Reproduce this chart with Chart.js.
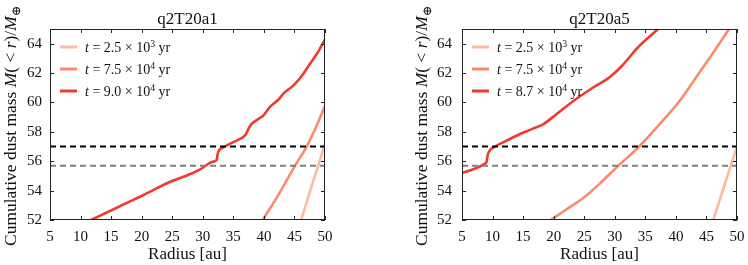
<!DOCTYPE html>
<html lang="en">
<head>
<meta charset="UTF-8">
<title>Cumulative dust mass</title>
<script src="https://cdn.jsdelivr.net/npm/chart.js@4.4.1/dist/chart.umd.min.js"></script>
<style>
  body { margin: 0; background: #fff; }
  .wrap { display: flex; width: 748px; height: 265px; }
  .panel { position: relative; width: 374px; height: 265px; }
</style>
</head>
<body>
<div class="wrap">
  <div class="panel"><canvas id="chartA1"></canvas></div>
  <div class="panel"><canvas id="chartA5"></canvas></div>
</div>
<script>
// ---- data ----
const xTicks = [5, 10, 15, 20, 25, 30, 35, 40, 45, 50];
const yTicks = [52, 54, 56, 58, 60, 62, 64];
const colors = ['#fcbba1', '#fc8a6a', '#ef3b2c'];
const blackLevel = 57.0;
const grayLevel = 55.7;

// q2T20a1
const a1Title = 'q2T20a1';
const a1Times = ['2.5', '7.5', '9.0'];
const a1Exps = ['3', '4', '4'];
const a1EarlyR = [46.1, 47.5, 48.9, 50];
const a1EarlyM = [52.0, 53.9, 55.7, 57.2];
const a1MidR = [39.8, 42.5, 45.1, 47.0, 48.5, 50];
const a1MidM = [52.0, 53.8, 55.7, 57.0, 58.3, 59.75];
const a1LateR = [11.7, 16.0, 19.8, 24.7, 27.5, 29.6, 30.5, 31.5, 32.3, 32.38, 32.5, 33.4, 34.5, 36.0, 37.0, 37.3, 37.6, 38.0, 39.0, 39.9, 41.0, 42.4, 43.2, 44.8, 45.9, 47.5, 48.8, 50];
const a1LateM = [52.0, 52.85, 53.6, 54.6, 55.05, 55.45, 55.7, 55.95, 56.1, 56.35, 56.6, 56.95, 57.2, 57.5, 57.8, 58.05, 58.3, 58.55, 58.85, 59.1, 59.7, 60.2, 60.6, 61.15, 61.65, 62.6, 63.4, 64.3];

// q2T20a5
const a5Title = 'q2T20a5';
const a5Times = ['2.5', '7.5', '8.7'];
const a5Exps = ['3', '4', '4'];
const a5EarlyR = [46.1, 47.5, 48.9, 50];
const a5EarlyM = [52.0, 53.8, 55.6, 57.0];
const a5MidR = [19.5, 22.0, 25.0, 27.6, 30.6, 34.0, 37.3, 40.7, 43.8, 46.3, 48.7];
const a5MidM = [52.0, 52.7, 53.55, 54.5, 55.7, 57.0, 58.5, 60.15, 62.0, 63.5, 65.0];
const a5LateR = [5, 6.5, 7.7, 8.6, 9.05, 9.15, 9.3, 9.7, 10.4, 12.3, 14.5, 16.5, 18.4, 20.3, 23.4, 26.4, 29.1, 31.2, 33.9, 37.1];
const a5LateM = [55.2, 55.4, 55.6, 55.8, 55.98, 56.3, 56.55, 56.8, 57.0, 57.4, 57.85, 58.2, 58.55, 59.15, 60.15, 61.0, 61.7, 62.5, 63.8, 65.0];

const serif = '"Liberation Serif", "DejaVu Serif", serif';

function pts(xs, ys) { return xs.map((x, i) => ({ x: x, y: ys[i] })); }

// draw a run of [text, style] pieces; style: '' upright, 'i' italic, 'sup'/'sub'
function drawRuns(ctx, runs, x, y, size) {
  let cx = x;
  runs.forEach(([t, s]) => {
    let sz = size, dy = 0, st = '';
    if (s === 'i') st = 'italic ';
    if (s === 'sup') { sz = size * 0.7; dy = -size * 0.38; }
    if (s === 'sub') { sz = size * 0.7; dy = size * 0.25; }
    ctx.font = st + sz + 'px ' + serif;
    ctx.fillText(t, cx, y + dy);
    cx += ctx.measureText(t).width;
  });
  return cx - x;
}
function runsWidth(ctx, runs, size) {
  let w = 0;
  runs.forEach(([t, s]) => {
    let sz = (s === 'sup' || s === 'sub') ? size * 0.7 : size;
    ctx.font = (s === 'i' ? 'italic ' : '') + sz + 'px ' + serif;
    w += ctx.measureText(t).width;
  });
  return w;
}

const decor = {
  id: 'decor',
  afterDraw(chart, args, opts) {
    const { ctx, chartArea: a, scales } = chart;
    ctx.save();
    // frame
    ctx.strokeStyle = '#222';
    ctx.lineWidth = 1;
    ctx.strokeRect(a.left + 0.5, a.top + 0.5, a.right - a.left - 1, a.bottom - a.top - 1);
    // inward ticks on all four sides
    ctx.beginPath();
    xTicks.forEach(v => {
      const px = Math.round(scales.x.getPixelForValue(v)) + 0.5;
      ctx.moveTo(px, a.bottom); ctx.lineTo(px, a.bottom - 4);
      ctx.moveTo(px, a.top); ctx.lineTo(px, a.top + 4);
    });
    yTicks.forEach(v => {
      const py = Math.round(scales.y.getPixelForValue(v)) + 0.5;
      ctx.moveTo(a.left, py); ctx.lineTo(a.left + 4, py);
      ctx.moveTo(a.right, py); ctx.lineTo(a.right - 4, py);
    });
    ctx.stroke();

    ctx.fillStyle = '#111';
    ctx.textBaseline = 'alphabetic';
    // title
    ctx.font = '17px ' + serif;
    ctx.textAlign = 'center';
    ctx.fillText(opts.title, (a.left + a.right) / 2, a.top - 5);
    // x axis title
    ctx.fillText('Radius [au]', (a.left + a.right) / 2, 259);
    ctx.textAlign = 'left';
    // y axis title (rotated), sized to span the same height as the original
    const yRuns = [['Cumulative dust mass ', ''], ['M', 'i'], ['( < ', ''], ['r', 'i'], [')/', ''], ['M', 'i'], ['\u2295', 'sub']];
    const ysz = 16 * 240 / runsWidth(ctx, yRuns, 16);
    const w = runsWidth(ctx, yRuns, ysz);
    ctx.translate(opts.yTitleX, 126);
    ctx.rotate(-Math.PI / 2);
    drawRuns(ctx, yRuns, -w / 2, 0, ysz);
    ctx.setTransform(1, 0, 0, 1, 0, 0);
    // legend
    opts.times.forEach((t, i) => {
      const ly = a.top + 18 + i * 22;
      ctx.strokeStyle = colors[i];
      ctx.lineWidth = 3;
      ctx.beginPath();
      ctx.moveTo(a.left + 10, ly); ctx.lineTo(a.left + 27, ly);
      ctx.stroke();
      ctx.fillStyle = '#111';
      drawRuns(ctx, [['t', 'i'], [' = ' + t + ' \u00d7 10', ''], [opts.exps[i], 'sup'], [' yr', '']], a.left + 35, ly + 5, 14);
    });
    ctx.restore();
  }
};

function makeChart(id, cfg) {
  const lineDs = (data, color) => ({
    data: data, borderColor: color, borderWidth: 2.6, pointRadius: 0,
    fill: false, cubicInterpolationMode: 'monotone'
  });
  const levelDs = (lvl, color) => ({
    data: pts([5, 50], [lvl, lvl]), borderColor: color, borderWidth: 2,
    borderDash: [6, 4], pointRadius: 0, fill: false
  });
  return new Chart(document.getElementById(id), {
    type: 'line',
    data: {
      datasets: [
        levelDs(blackLevel, '#000'),
        levelDs(grayLevel, '#808080'),
        lineDs(cfg.early, colors[0]),
        lineDs(cfg.mid, colors[1]),
        lineDs(cfg.late, colors[2])
      ]
    },
    options: {
      responsive: false,
      animation: false,
      layout: { padding: { top: 29, right: cfg.padRight, left: 0, bottom: 0 } },
      plugins: {
        legend: { display: false },
        tooltip: { enabled: false },
        decor: { title: cfg.title, times: cfg.times, exps: cfg.exps, yTitleX: cfg.yTitleX }
      },
      scales: {
        x: {
          type: 'linear', min: 5, max: 50,
          grid: { display: false }, border: { display: false },
          afterBuildTicks: s => { s.ticks = xTicks.map(v => ({ value: v })); },
          afterFit: s => { s.height = 45; },
          ticks: { color: '#111', padding: 0, font: { family: serif, size: 15 }, maxRotation: 0 }
        },
        y: {
          min: 52, max: 65,
          grid: { display: false }, border: { display: false },
          afterBuildTicks: s => { s.ticks = yTicks.map(v => ({ value: v })); },
          afterFit: s => { s.width = cfg.yWidth; },
          ticks: { color: '#111', padding: cfg.tickPad, font: { family: serif, size: 15 } }
        }
      }
    },
    plugins: [decor]
  });
}

['chartA1', 'chartA5'].forEach(id => {
  const c = document.getElementById(id);
  c.width = 374; c.height = 265;
});

makeChart('chartA1', {
  title: a1Title, times: a1Times, exps: a1Exps,
  early: pts(a1EarlyR, a1EarlyM), mid: pts(a1MidR, a1MidM), late: pts(a1LateR, a1LateM),
  padRight: 49, yWidth: 50, yTitleX: 16, tickPad: 0
});
makeChart('chartA5', {
  title: a5Title, times: a5Times, exps: a5Exps,
  early: pts(a5EarlyR, a5EarlyM), mid: pts(a5MidR, a5MidM), late: pts(a5LateR, a5LateM),
  padRight: 11, yWidth: 88, yTitleX: 53, tickPad: 2
});
</script>
</body>
</html>
